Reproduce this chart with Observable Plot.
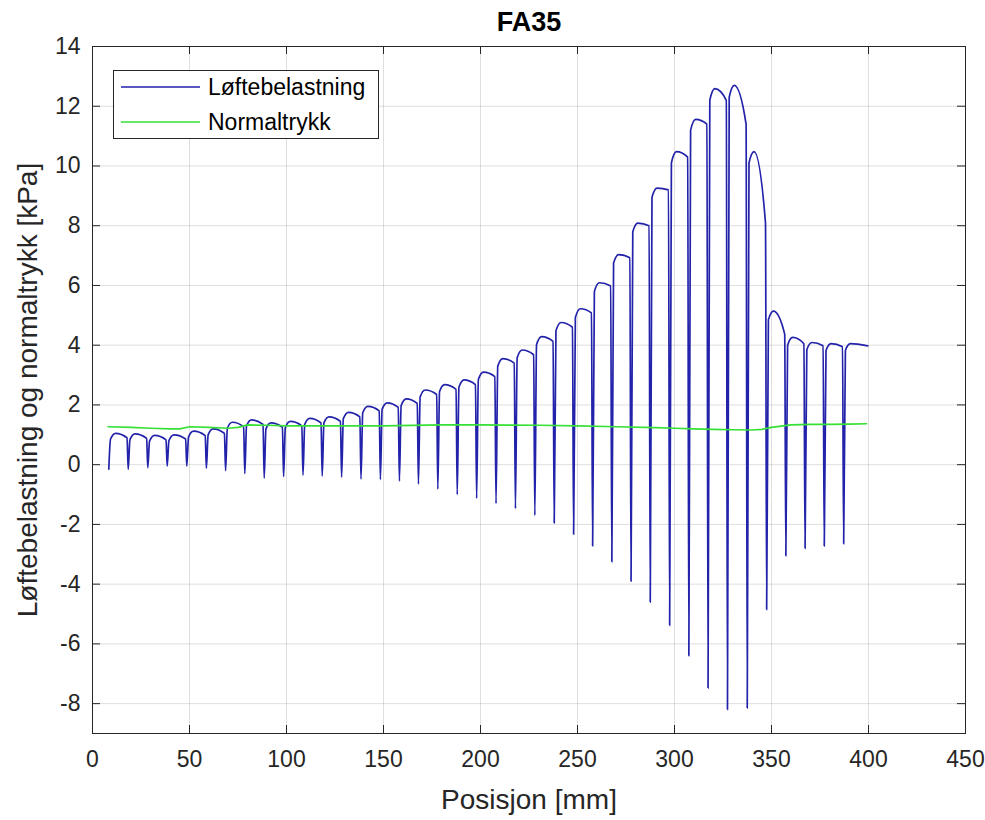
<!DOCTYPE html>
<html><head><meta charset="utf-8">
<script src="https://cdn.jsdelivr.net/npm/d3@7"></script>
<script src="https://cdn.jsdelivr.net/npm/@observablehq/plot@0.6"></script>
<style>body{margin:0;background:#fff;} #chart{width:985px;height:820px;}</style>
</head><body><div id="chart"></div>
<script>
// ---- data ----
const titleText = "FA35";
const xLabel = "Posisjon [mm]";
const yLabel = "Løftebelastning og normaltrykk [kPa]";
const seriesNames = ["Løftebelastning", "Normaltrykk"];
const xTicks = [0, 50, 100, 150, 200, 250, 300, 350, 400, 450];
const yTicks = [-8, -6, -4, -2, 0, 2, 4, 6, 8, 10, 12, 14];

// Løftebelastning: one segment per suction cycle
const dropX   = [8.4, 18.4, 28.5, 38.5, 48.6, 58.7, 68.6, 78.5, 88.5, 98.5, 108.5, 118.4, 128.4, 138.4, 148.4, 158.2, 168.0, 178.0, 188.0, 198.0, 208.0, 218.0, 228.0, 238.0, 248.0, 257.8, 267.7, 277.6, 287.5, 297.5, 307.4, 317.3, 327.3, 337.5, 347.5, 357.4, 367.3, 377.2, 387.2];
const dropMin = [-0.15, -0.15, -0.1, -0.05, -0.05, -0.12, -0.2, -0.3, -0.45, -0.4, -0.35, -0.38, -0.42, -0.48, -0.5, -0.55, -0.65, -0.82, -1.0, -1.13, -1.3, -1.47, -1.7, -1.95, -2.33, -2.72, -3.25, -3.9, -4.6, -5.38, -6.4, -7.48, -8.2, -8.15, -4.85, -3.05, -2.8, -2.72, -2.65];
const riseVal = [0.86, 0.84, 0.79, 0.81, 0.93, 1.0, 1.22, 1.3, 1.2, 1.25, 1.35, 1.4, 1.54, 1.74, 1.86, 1.98, 2.27, 2.45, 2.6, 2.85, 3.3, 3.58, 4.02, 4.48, 4.93, 5.8, 6.75, 7.8, 8.95, 10.1, 11.2, 12.2, 12.3, 10.1, 4.85, 4.0, 3.85, 3.82, 3.83];
const archTop = [1.05, 1.03, 0.98, 1.0, 1.12, 1.2, 1.42, 1.5, 1.4, 1.45, 1.55, 1.6, 1.75, 1.95, 2.07, 2.2, 2.5, 2.68, 2.84, 3.1, 3.55, 3.84, 4.29, 4.76, 5.22, 6.09, 7.03, 8.09, 9.26, 10.48, 11.56, 12.59, 12.7, 10.48, 5.14, 4.26, 4.09, 4.05, 4.05];
const archEnd = [0.9, 0.88, 0.83, 0.86, 0.97, 1.05, 1.27, 1.35, 1.25, 1.3, 1.4, 1.45, 1.6, 1.8, 1.92, 2.05, 2.35, 2.52, 2.68, 2.95, 3.4, 3.68, 4.13, 4.6, 5.08, 5.98, 6.93, 8.0, 9.2, 10.3, 11.4, 12.2, 11.4, 8.1, 4.37, 4.05, 3.98, 3.95, 3.98];
const lastX = 399.6;

// Normaltrykk
const greenX = [8, 20, 30, 40, 45, 50, 60, 70, 75, 80, 90, 100, 120, 150, 180, 200, 230, 250, 270, 290, 300, 310, 320, 330, 340, 345, 350, 360, 370, 380, 390, 399];
const greenY = [1.27, 1.25, 1.22, 1.2, 1.2, 1.27, 1.25, 1.22, 1.25, 1.33, 1.32, 1.3, 1.3, 1.3, 1.33, 1.33, 1.32, 1.3, 1.27, 1.24, 1.22, 1.2, 1.18, 1.17, 1.16, 1.18, 1.25, 1.33, 1.35, 1.35, 1.36, 1.37];

// ---- build tables ----
const RISE_DX = 0.9, TOP_DX = 3.5, END_GAP = 0.6;
const blue = [];
dropX.forEach((x0, k) => {
  blue.push({x: x0, y: dropMin[k]});
  blue.push({x: x0 + RISE_DX, y: riseVal[k]});
  blue.push({x: x0 + TOP_DX, y: archTop[k]});
  const xe = k < dropX.length - 1 ? dropX[k + 1] - END_GAP : lastX;
  blue.push({x: xe, y: archEnd[k]});
});
const green = greenX.map((x, i) => ({x, y: greenY[i]}));

const BLUE = "#2222aa", GREEN = "#36e036", INK = "#262626";
const W = 985, H = 820, ML = 92, MR = 20, MT = 46, MB = 87;
const fw = W - ML - MR, fh = H - MT - MB, TL = 8;

const chart = Plot.plot({
  width: W, height: H,
  marginLeft: ML, marginRight: MR, marginTop: MT, marginBottom: MB,
  style: {fontFamily: "'Liberation Sans', Arial, sans-serif", background: "#fff", color: INK, overflow: "visible"},
  x: {domain: [0, 450], label: null},
  y: {domain: [-9, 14], label: null},
  marks: [
    Plot.gridX(xTicks, {stroke: INK, strokeOpacity: 0.15}),
    Plot.gridY(yTicks, {stroke: INK, strokeOpacity: 0.15}),
    Plot.line(blue, {x: "x", y: "y", stroke: BLUE, strokeWidth: 1.7, curve: "monotone-x"}),
    Plot.line(green, {x: "x", y: "y", stroke: GREEN, strokeWidth: 1.7}),
    Plot.frame({stroke: INK, strokeWidth: 1}),
    Plot.tickX(xTicks, {x: d => d, insetTop: fh - TL, stroke: INK}),
    Plot.tickX(xTicks, {x: d => d, insetBottom: fh - TL, stroke: INK}),
    Plot.tickY(yTicks, {y: d => d, insetRight: fw - TL, stroke: INK}),
    Plot.tickY(yTicks, {y: d => d, insetLeft: fw - TL, stroke: INK}),
    Plot.axisX({ticks: xTicks, tickSize: 0, tickPadding: 17, fontSize: 23, tickFormat: d => String(d), label: null, fill: INK}),
    Plot.axisY({ticks: yTicks, tickSize: 0, tickPadding: 12, fontSize: 23, tickFormat: d => String(d), label: null, fill: INK}),
    Plot.text([titleText], {frameAnchor: "top", dy: -24, fontSize: 27, fontWeight: "bold", fill: "#000", lineAnchor: "middle", textAnchor: "middle"}),
    Plot.text([xLabel], {frameAnchor: "bottom", dy: 67, fontSize: 28, fill: INK, lineAnchor: "middle", textAnchor: "middle"}),
    Plot.text([yLabel], {frameAnchor: "left", dx: -64, rotate: -90, fontSize: 28, fill: INK, lineAnchor: "middle", textAnchor: "middle"})
  ]
});
document.getElementById("chart").appendChild(chart);

// legend
const svg = d3.select(chart);
const lg = svg.append("g").attr("font-family", "'Liberation Sans', Arial, sans-serif").attr("font-size", 23).attr("text-anchor", "start");
lg.append("rect").attr("x", 113.5).attr("y", 70.5).attr("width", 265).attr("height", 68)
  .attr("fill", "#fff").attr("stroke", INK).attr("stroke-width", 1);
[[BLUE, 87], [GREEN, 122]].forEach(([c, y], i) => {
  lg.append("line").attr("x1", 121).attr("x2", 200).attr("y1", y).attr("y2", y).attr("stroke", c).attr("stroke-width", 1.7);
  lg.append("text").attr("x", 208).attr("y", y + 8).attr("fill", "#000").attr("text-anchor", "start").text(seriesNames[i]);
});
</script>
</body></html>
